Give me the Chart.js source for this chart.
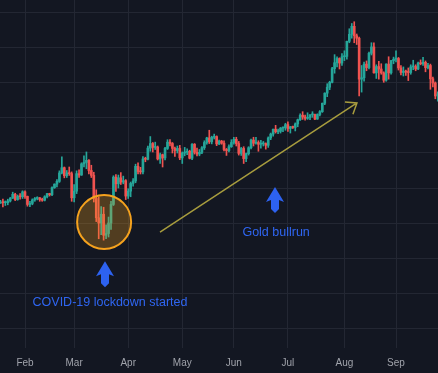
<!DOCTYPE html>
<html>
<head>
<meta charset="utf-8">
<script src="https://cdn.jsdelivr.net/npm/chart.js@4.4.1/dist/chart.umd.min.js"></script>
<style>
  html, body { margin: 0; padding: 0; background: #131722; }
  #wrap { width: 438px; height: 373px; }
</style>
</head>
<body>
<div id="wrap"><canvas id="goldChart"></canvas></div>
<script>
// daily gold candles, one per weekday from 20 Jan 2020 to 24 Sep 2020
const opens = [
  1557,1560,1558,1558,1563,1571,1582,1567,1576,1575,
  1589,1576,1553,1556,1566,1570,1572,1567,1565,1575,
  1584,1581,1601,1611,1619,1643,1658,1635,1643,1641,
  1572,1591,1641,1637,1669,1673,1679,1650,1636,1570,
  1515,1500,1525,1465,1470,1500,1553,1631,1612,1629,
  1617,1621,1577,1591,1613,1620,1662,1647,1646,1683,
  1682,1714,1727,1716,1717,1683,1695,1686,1713,1731,
  1727,1713,1707,1713,1686,1700,1702,1705,1685,1725,
  1702,1697,1702,1715,1730,1743,1732,1745,1747,1726,
  1734,1728,1710,1707,1718,1730,1739,1727,1699,1713,
  1684,1698,1715,1737,1728,1730,1725,1726,1727,1722,
  1743,1754,1768,1761,1762,1771,1772,1781,1770,1775,
  1773,1783,1795,1808,1803,1799,1802,1809,1810,1797,
  1810,1818,1842,1871,1888,1902,1941,1958,1970,1957,
  1975,1976,2019,2039,2062,2035,2028,1911,1915,1954,
  1944,1985,2003,1929,1947,1940,1929,1908,1954,1929,
  1964,1968,1970,1943,1930,1934,1931,1930,1946,1947,
  1940,1957,1955,1959,1944,1950,1912,1900,1863
];
const highs = [
  1565,1568,1563,1568,1573,1588,1585,1580,1584,1592,
  1592,1577,1562,1569,1573,1575,1573,1571,1578,1585,
  1585,1603,1612,1624,1649,1689,1660,1650,1660,1646,
  1610,1649,1652,1672,1692,1703,1681,1665,1645,1595,
  1575,1547,1545,1495,1517,1562,1635,1638,1637,1644,
  1634,1624,1598,1617,1627,1668,1672,1659,1690,1688,
  1720,1747,1730,1731,1720,1700,1697,1716,1738,1738,
  1730,1717,1720,1722,1703,1716,1712,1708,1727,1727,
  1714,1710,1718,1735,1745,1765,1748,1754,1749,1737,
  1736,1735,1713,1723,1738,1745,1745,1733,1716,1718,
  1700,1718,1740,1745,1745,1735,1736,1733,1729,1746,
  1757,1768,1779,1768,1773,1775,1785,1789,1776,1777,
  1786,1797,1812,1818,1808,1815,1810,1818,1811,1812,
  1821,1843,1872,1898,1905,1945,1981,1975,1972,1984,
  1992,2020,2055,2070,2075,2040,2031,1950,1960,1963,
  1988,2015,2015,1952,1962,1955,1932,1955,1975,1965,
  1974,1992,1973,1950,1946,1937,1943,1952,1965,1952,
  1960,1966,1973,1963,1956,1954,1917,1903,1875
];
const lows = [
  1556,1546,1550,1552,1560,1570,1564,1565,1568,1570,
  1570,1548,1547,1552,1562,1566,1562,1562,1563,1572,
  1577,1578,1599,1603,1616,1640,1629,1630,1636,1562,
  1560,1584,1630,1636,1660,1655,1640,1630,1560,1504,
  1455,1467,1451,1455,1460,1482,1550,1590,1600,1610,
  1612,1567,1570,1575,1605,1615,1640,1640,1640,1675,
  1680,1705,1703,1710,1680,1670,1660,1680,1710,1720,
  1700,1690,1700,1681,1670,1692,1695,1683,1681,1697,
  1692,1692,1698,1710,1725,1727,1726,1740,1721,1724,
  1725,1706,1693,1703,1716,1725,1720,1694,1693,1670,
  1675,1694,1712,1720,1725,1705,1714,1720,1711,1716,
  1738,1748,1757,1755,1757,1761,1765,1762,1757,1770,
  1763,1775,1793,1796,1794,1796,1795,1802,1795,1796,
  1806,1816,1838,1861,1881,1900,1928,1946,1940,1950,
  1964,1968,2015,2028,2015,2010,1863,1874,1905,1935,
  1940,1980,1928,1913,1911,1925,1902,1905,1911,1925,
  1955,1960,1937,1923,1920,1922,1907,1925,1938,1935,
  1938,1952,1950,1932,1940,1882,1889,1855,1848
];
const closes = [
  1560,1558,1558,1563,1571,1582,1567,1576,1575,1589,
  1576,1553,1556,1566,1570,1572,1567,1565,1575,1584,
  1581,1601,1611,1619,1643,1658,1635,1643,1641,1572,
  1591,1641,1637,1669,1673,1679,1650,1636,1570,1515,
  1500,1525,1465,1470,1500,1553,1631,1612,1629,1617,
  1621,1577,1591,1613,1620,1662,1647,1646,1683,1682,
  1714,1727,1716,1717,1683,1695,1686,1713,1731,1727,
  1713,1707,1713,1686,1700,1702,1705,1685,1725,1702,
  1697,1702,1715,1730,1743,1732,1745,1747,1726,1734,
  1728,1710,1707,1718,1730,1739,1727,1699,1713,1684,
  1698,1715,1737,1728,1730,1725,1726,1727,1722,1743,
  1754,1768,1761,1762,1771,1772,1781,1770,1775,1773,
  1783,1795,1808,1803,1799,1802,1809,1810,1797,1810,
  1818,1842,1871,1888,1902,1941,1958,1970,1957,1975,
  1976,2019,2039,2062,2035,2028,1911,1915,1954,1944,
  1985,2003,1929,1947,1940,1929,1908,1954,1929,1964,
  1968,1970,1943,1930,1934,1931,1930,1946,1947,1940,
  1957,1955,1959,1944,1950,1912,1900,1863,1868
];
const monthNames = ['Jan','Feb','Mar','Apr','May','Jun','Jul','Aug','Sep','Oct','Nov','Dec'];
const priceGrid = [1200, 1300, 1400, 1500, 1600, 1700, 1800, 1900, 2000, 2100];

const upColor = '#26a69a';
const downColor = '#ef5350';
const gridColor = '#232733';

// weekday calendar for the candles
const dates = [];
const day = new Date(Date.UTC(2020, 0, 20));
while (dates.length < closes.length) {
  const wd = day.getUTCDay();
  if (wd !== 0 && wd !== 6) dates.push(new Date(day));
  day.setUTCDate(day.getUTCDate() + 1);
}
const monthStarts = [];
for (let i = 1; i < dates.length; i++) {
  if (dates[i].getUTCMonth() !== dates[i - 1].getUTCMonth()) monthStarts.push(i);
}

const candleColors = closes.map((c, i) => c >= opens[i] ? upColor : downColor);
const wickData = dates.map((d, i) => ({ x: i, y: [lows[i], highs[i]] }));
const bodyData = dates.map((d, i) => ({ x: i, y: [opens[i], closes[i]] }));

// hand-drawn marks on the chart, placed in data space (index, price)
const drawings = {
  id: 'drawings',
  afterDatasetsDraw(chart) {
    const { ctx, scales: { x, y } } = chart;
    const px = v => x.getPixelForValue(v);
    const py = v => y.getPixelForValue(v);
    ctx.save();

    // circle round the March low
    ctx.beginPath();
    ctx.arc(px(42.2), py(1503), 27, 0, Math.PI * 2);
    ctx.fillStyle = 'rgba(245,160,30,0.28)';
    ctx.fill();
    ctx.lineWidth = 2;
    ctx.strokeStyle = '#f5a21e';
    ctx.stroke();

    // trend arrow
    const x1 = px(64.95), y1 = py(1474), x2 = px(145.1), y2 = py(1843);
    ctx.beginPath();
    ctx.moveTo(x1, y1);
    ctx.lineTo(x2, y2);
    const ang = Math.atan2(y2 - y1, x2 - x1);
    const head = 12;
    ctx.moveTo(x2 - head * Math.cos(ang - 0.65), y2 - head * Math.sin(ang - 0.65));
    ctx.lineTo(x2, y2);
    ctx.lineTo(x2 - head * Math.cos(ang + 0.65), y2 - head * Math.sin(ang + 0.65));
    ctx.lineWidth = 1.5;
    ctx.strokeStyle = '#a89d3e';
    ctx.stroke();

    // blue up arrows
    const upArrow = (cx, top) => {
      const pts = [[0,0],[9,15],[4,13],[4,22],[0,26],[-4,22],[-4,13],[-9,15]];
      ctx.beginPath();
      pts.forEach(([dx, dy], k) => k ? ctx.lineTo(cx + dx, top + dy) : ctx.moveTo(cx + dx, top + dy));
      ctx.closePath();
      ctx.fillStyle = '#2d62f0';
      ctx.fill();
    };
    upArrow(px(42.56), py(1391));
    upArrow(px(111.75), py(1603));

    ctx.fillStyle = '#2f66f2';
    ctx.font = '12.5px "Liberation Sans", Arial, sans-serif';
    ctx.textAlign = 'center';
    ctx.textBaseline = 'middle';
    ctx.fillText('COVID-19 lockdown started', px(44.6), py(1274));
    ctx.fillText('Gold bullrun', px(112.2), py(1473));
    ctx.restore();
  }
};

new Chart(document.getElementById('goldChart'), {
  type: 'bar',
  data: {
    datasets: [
      {
        label: 'wick',
        data: wickData,
        backgroundColor: candleColors,
        barThickness: 1,
        grouped: false
      },
      {
        label: 'body',
        data: bodyData,
        backgroundColor: candleColors,
        barThickness: 2,
        minBarLength: 1,
        grouped: false
      }
    ]
  },
  options: {
    responsive: true,
    maintainAspectRatio: false,
    animation: false,
    layout: { padding: { bottom: 4 } },
    plugins: { legend: { display: false }, tooltip: { enabled: false } },
    scales: {
      x: {
        type: 'linear',
        min: -0.175,
        max: 178.09,
        offset: false,
        afterBuildTicks: scale => { scale.ticks = monthStarts.map(i => ({ value: i })); },
        afterFit: scale => { scale.height = 21; },
        ticks: {
          callback: v => monthNames[dates[v].getUTCMonth()],
          color: '#a0a3ab',
          font: { size: 10, family: '"Liberation Sans", Arial, sans-serif' },
          padding: 9,
          maxRotation: 0,
          autoSkip: false
        },
        grid: { color: gridColor, drawTicks: false, offset: false },
        border: { display: false }
      },
      y: {
        min: 1142.86,
        max: 2137.14,
        afterBuildTicks: scale => { scale.ticks = priceGrid.map(v => ({ value: v })); },
        afterFit: scale => { scale.width = 0; },
        ticks: { display: false },
        grid: { color: gridColor, drawTicks: false },
        border: { display: false }
      }
    }
  },
  plugins: [drawings]
});
</script>
</body>
</html>
